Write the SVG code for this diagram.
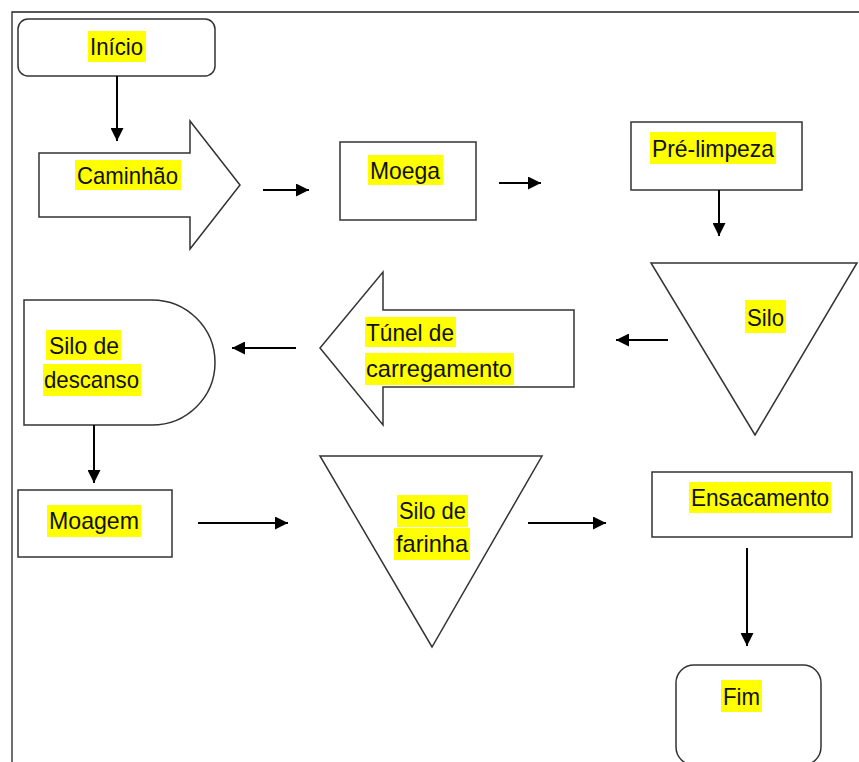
<svg xmlns="http://www.w3.org/2000/svg" width="859" height="762" viewBox="0 0 859 762">
<defs>
<marker id="ah" viewBox="0 0 10 10" refX="10" refY="5" markerWidth="6.5" markerHeight="6.5" orient="auto" markerUnits="strokeWidth">
<path d="M0,0 L10,5 L0,10 Z" fill="#000"/>
</marker>
</defs>
<style>
.shape{fill:#fff;stroke:#333;stroke-width:1.5}
.hl{fill:#ffff00}
.t{font-family:"Liberation Sans",Arial,sans-serif;font-size:24px;fill:#111}
.c{stroke:#000;stroke-width:2;fill:none;marker-end:url(#ah)}
</style>
<rect width="859" height="762" fill="#fff"/>
<path d="M12,762 L12,12 L859,12" fill="none" stroke="#222" stroke-width="1.3"/>
<g id="inicio">
<rect class="shape" x="18" y="19" width="197" height="57" rx="10"/>
<rect class="hl" x="88" y="31" width="58" height="31"/>
<text class="t" x="90" y="55" textLength="53" lengthAdjust="spacingAndGlyphs">Início</text>
</g>
<g id="caminhao">
<path class="shape" d="M39,153 L190,153 L190,121 L240,185 L190,249 L190,217 L39,217 Z"/>
<rect class="hl" x="75" y="160" width="106" height="30"/>
<text class="t" x="77" y="184" textLength="101" lengthAdjust="spacingAndGlyphs">Caminhão</text>
</g>
<g id="moega">
<rect class="shape" x="340" y="142" width="136" height="78"/>
<rect class="hl" x="368" y="155" width="75" height="30"/>
<text class="t" x="370" y="179" textLength="70" lengthAdjust="spacingAndGlyphs">Moega</text>
</g>
<g id="prelimpeza">
<rect class="shape" x="631" y="122" width="171" height="68"/>
<rect class="hl" x="650" y="132" width="126" height="32"/>
<text class="t" x="652" y="157" textLength="122" lengthAdjust="spacingAndGlyphs">Pré-limpeza</text>
</g>
<g id="silo">
<path class="shape" d="M651,263 L857,263 L755,435 Z"/>
<rect class="hl" x="745" y="300" width="41" height="33"/>
<text class="t" x="747" y="326" textLength="37" lengthAdjust="spacingAndGlyphs">Silo</text>
</g>
<g id="tunel">
<path class="shape" d="M574,310 L383,310 L383,272 L320,348 L383,425 L383,387 L574,387 Z"/>
<rect class="hl" x="365" y="317" width="91" height="30"/>
<rect class="hl" x="365" y="353" width="149" height="32"/>
<text class="t" x="366" y="341" textLength="88" lengthAdjust="spacingAndGlyphs">Túnel de</text>
<text class="t" x="366" y="377" textLength="146" lengthAdjust="spacingAndGlyphs">carregamento</text>
</g>
<g id="descanso">
<path class="shape" d="M24,300 L152,300 A63,62.5 0 0 1 152,425 L24,425 Z"/>
<rect class="hl" x="46" y="330" width="75" height="30"/>
<rect class="hl" x="43" y="364" width="98" height="32"/>
<text class="t" x="49" y="354" textLength="70" lengthAdjust="spacingAndGlyphs">Silo de</text>
<text class="t" x="44" y="388" textLength="95" lengthAdjust="spacingAndGlyphs">descanso</text>
</g>
<g id="moagem">
<rect class="shape" x="18" y="490" width="154" height="67"/>
<rect class="hl" x="47" y="505" width="94" height="32"/>
<text class="t" x="49" y="529" textLength="90" lengthAdjust="spacingAndGlyphs">Moagem</text>
</g>
<g id="farinha">
<path class="shape" d="M320,456 L542,456 L432,647 Z"/>
<rect class="hl" x="397" y="495" width="71" height="32"/>
<rect class="hl" x="394" y="528" width="76" height="32"/>
<text class="t" x="399" y="519" textLength="67" lengthAdjust="spacingAndGlyphs">Silo de</text>
<text class="t" x="396" y="552" textLength="72" lengthAdjust="spacingAndGlyphs">farinha</text>
</g>
<g id="ensacamento">
<rect class="shape" x="652" y="472" width="200" height="65"/>
<rect class="hl" x="689" y="482" width="142" height="31"/>
<text class="t" x="691" y="506" textLength="138" lengthAdjust="spacingAndGlyphs">Ensacamento</text>
</g>
<g id="fim">
<rect class="shape" x="676" y="665" width="145" height="100" rx="18"/>
<rect class="hl" x="721" y="680" width="41" height="32"/>
<text class="t" x="723" y="705" textLength="37" lengthAdjust="spacingAndGlyphs">Fim</text>
</g>
<g id="connectors">
<line class="c" x1="117" y1="76" x2="117" y2="141"/>
<line class="c" x1="263" y1="190" x2="309" y2="190"/>
<line class="c" x1="499" y1="183" x2="541" y2="183"/>
<line class="c" x1="719" y1="190" x2="719" y2="236"/>
<line class="c" x1="668" y1="340" x2="616" y2="340"/>
<line class="c" x1="296" y1="348" x2="232" y2="348"/>
<line class="c" x1="94" y1="425" x2="94" y2="483"/>
<line class="c" x1="198" y1="523" x2="288" y2="523"/>
<line class="c" x1="528" y1="523" x2="606" y2="523"/>
<line class="c" x1="747" y1="548" x2="747" y2="646"/>
</g>
</svg>
